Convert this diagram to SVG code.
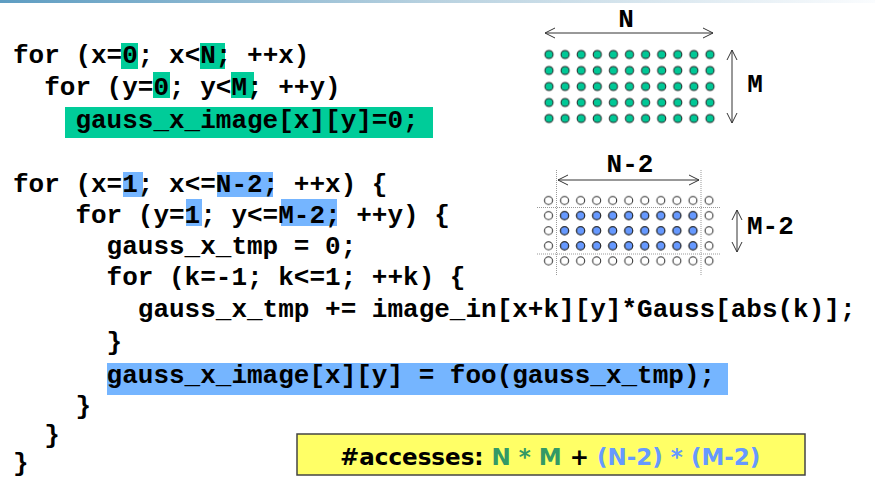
<svg xmlns="http://www.w3.org/2000/svg" width="875" height="481" viewBox="0 0 875 481">
<style>
.code{font-family:"Liberation Mono","Courier New",monospace;font-weight:bold;font-size:26px;fill:#000;white-space:pre}
.lbl{font-family:"Liberation Mono","Courier New",monospace;font-weight:bold;font-size:26px;fill:#000}
.hg{fill:#00CC99}
.hb{fill:#75B5FF}
.arr{stroke:#333;stroke-width:1;fill:none;marker-start:url(#ah);marker-end:url(#ah)}
.dot{stroke:#999;stroke-width:1;stroke-dasharray:1 1;fill:none}
.acc{font-family:"DejaVu Sans",Verdana,sans-serif;font-weight:bold;font-size:23px}
</style>
<defs>
<linearGradient id="topbar" x1="0" y1="0" x2="1" y2="0">
<stop offset="0" stop-color="#5E9DC2"/>
<stop offset="0.5" stop-color="#B9D2E0"/>
<stop offset="1" stop-color="#FAFCFE"/>
</linearGradient>
<marker id="ah" viewBox="0 0 12 12" refX="11" refY="6" markerWidth="12" markerHeight="12" markerUnits="userSpaceOnUse" orient="auto-start-reverse">
<path d="M1,1 L11,6 L1,11" fill="none" stroke="#333" stroke-width="1"/>
</marker>
<pattern id="pg" patternUnits="userSpaceOnUse" x="540.95" y="46.5" width="16.1" height="16">
<circle cx="8.05" cy="8" r="4.1" fill="#00C896" stroke="#222" stroke-width="1"/>
</pattern>
<pattern id="pw" patternUnits="userSpaceOnUse" x="540.5" y="192.95" width="16.05" height="15.1">
<circle cx="8.025" cy="7.55" r="4" fill="#FFFFFF" stroke="#222" stroke-width="1"/>
</pattern>
<pattern id="pb" patternUnits="userSpaceOnUse" x="540.5" y="192.95" width="16.05" height="15.1">
<circle cx="8.025" cy="7.55" r="4" fill="#6699FF" stroke="#222" stroke-width="1"/>
</pattern>
</defs>

<rect x="0" y="0" width="875" height="3" fill="url(#topbar)"/>

<g id="code-init">
<rect class="hg" x="121" y="43" width="17" height="26"/>
<rect class="hg" x="200" y="43" width="25" height="26"/>
<rect class="hg" x="153" y="72" width="17" height="26"/>
<rect class="hg" x="231" y="72" width="23" height="26"/>
<rect class="hg" x="65" y="107" width="368" height="31"/>
<text class="code" x="13" y="63">for (x=0; x&lt;N; ++x)</text>
<text class="code" x="44.2" y="95">for (y=0; y&lt;M; ++y)</text>
<text class="code" x="75.4" y="128">gauss_x_image[x][y]=0;</text>
</g>

<g id="code-filter">
<rect class="hb" x="123" y="172" width="20" height="25"/>
<rect class="hb" x="217" y="172" width="56" height="25"/>
<rect class="hb" x="186" y="199" width="16" height="27"/>
<rect class="hb" x="281" y="199" width="56" height="27"/>
<rect class="hb" x="107" y="363" width="621" height="32"/>
<text class="code" x="13" y="192">for (x=1; x&lt;=N-2; ++x) {</text>
<text class="code" x="75.4" y="223">for (y=1; y&lt;=M-2; ++y) {</text>
<text class="code" x="106.6" y="254">gauss_x_tmp = 0;</text>
<text class="code" x="106.6" y="285">for (k=-1; k&lt;=1; ++k) {</text>
<text class="code" x="137.8" y="317">gauss_x_tmp += image_in[x+k][y]*Gauss[abs(k)];</text>
<text class="code" x="106.6" y="350">}</text>
<text class="code" x="106.6" y="383">gauss_x_image[x][y] = foo(gauss_x_tmp);</text>
<text class="code" x="75.4" y="414">}</text>
<text class="code" x="44.2" y="443">}</text>
<text class="code" x="13" y="471">}</text>
</g>

<g id="grid-full">
<rect x="540.95" y="46.5" width="177.1" height="80" fill="url(#pg)"/>
<text class="lbl" x="626" y="27" text-anchor="middle">N</text>
<text class="lbl" x="755" y="92" text-anchor="middle">M</text>
</g>

<g id="grid-inner">
<rect x="540.5" y="192.95" width="176.55" height="75.5" fill="url(#pw)"/>
<rect x="556.55" y="208.05" width="144.45" height="45.3" fill="url(#pb)"/>
<line class="dot" x1="556.5" y1="170" x2="556.5" y2="276"/>
<line class="dot" x1="701" y1="170" x2="701" y2="276"/>
<line class="dot" x1="537" y1="207.5" x2="720" y2="207.5"/>
<line class="dot" x1="537" y1="254" x2="720" y2="254"/>
<text class="lbl" x="630" y="172" text-anchor="middle">N-2</text>
<text class="lbl" x="747" y="234">M-2</text>
</g>

<g id="connectors">
<line class="arr" x1="545" y1="33" x2="713" y2="33"/>
<line class="arr" x1="732" y1="50" x2="732" y2="123"/>
<line class="arr" x1="558" y1="180" x2="699" y2="180"/>
<line class="arr" x1="737" y1="210" x2="737" y2="252"/>
</g>

<g id="accesses">
<rect x="297" y="434" width="508" height="41" fill="#FFFF66" stroke="#444" stroke-width="1.5"/>
<text class="acc" x="340" y="465"><tspan fill="#000">#accesses: </tspan><tspan fill="#339966">N * M</tspan><tspan fill="#000"> + </tspan><tspan fill="#6699FF">(N-2) * (M-2)</tspan></text>
</g>
</svg>
